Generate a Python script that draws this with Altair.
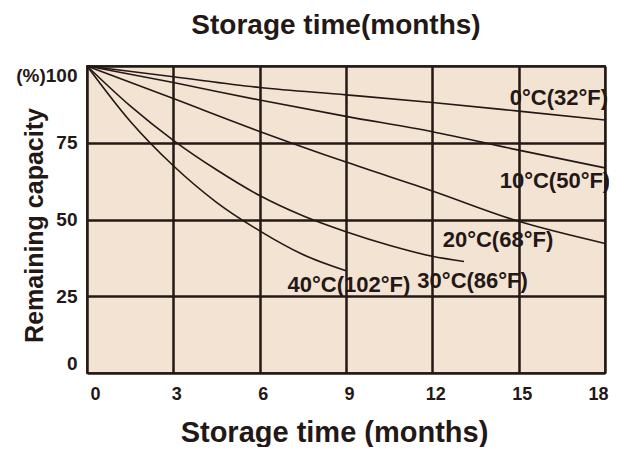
import altair as alt
import pandas as pd

# ---- data ----
series = ["0°C(32°F)", "10°C(50°F)", "20°C(68°F)", "30°C(86°F)", "40°C(102°F)"]

months_0 = [0, 3, 6, 9, 12, 15, 18]
cap_0 = [100, 96.5, 93.0, 90.6, 88.1, 85.3, 82.4]

months_10 = [0, 3, 6, 9, 12, 15, 18]
cap_10 = [100, 94.6, 88.9, 83.6, 78.6, 72.6, 66.8]

months_20 = [0, 3, 6, 9, 12, 15, 18]
cap_20 = [100, 89.4, 78.7, 68.7, 59.3, 49.4, 42.2]

months_30 = [0, 1.5, 3, 4.5, 6, 7.5, 9, 10.5, 12, 13.1]
cap_30 = [100, 87.0, 75.8, 66.2, 57.8, 51.2, 46.0, 41.6, 38.0, 36.3]

months_40 = [0, 1.5, 3, 4.5, 6, 7.5, 9]
cap_40 = [100, 82.0, 67.5, 55.6, 46.3, 38.6, 33.3]

# label anchors (data units)
label_month = [16.4, 16.26, 14.28, 13.4, 9.1]
label_cap = [89.6, 62.5, 43.3, 30.0, 28.7]

x_ticks = [0, 3, 6, 9, 12, 15, 18]
y_ticks = [0, 25, 50, 75, 100]

rows = []
for name, ms, cs in zip(series, [months_0, months_10, months_20, months_30, months_40],
                        [cap_0, cap_10, cap_20, cap_30, cap_40]):
    for m, c in zip(ms, cs):
        rows.append({"series": name, "month": m, "cap": c})
df = pd.DataFrame(rows)
labels_df = pd.DataFrame({"label": series, "month": label_month, "cap": label_cap})

INK = "#231815"
FONT = "Liberation Sans"

x_enc = alt.X(
    "month:Q",
    scale=alt.Scale(domain=[0, 18], nice=False, zero=False),
    axis=alt.Axis(
        values=x_ticks, title="Storage time (months)", labelAngle=0,
        labelFontSize=18, labelFontWeight="bold", labelFont=FONT, labelColor=INK,
        labelFlush=True, labelFlushOffset=0, labelOffset=3,
        labelPadding=12,
        titleFontSize=29, titleFont=FONT, titleFontWeight="bold", titleColor=INK,
        titleX=247, titleY=68, titleBaseline="alphabetic", titleAlign="center",
    ),
)
y_enc = alt.Y(
    "cap:Q",
    scale=alt.Scale(domain=[0, 100], nice=False),
    axis=alt.Axis(
        values=y_ticks, title="Remaining capacity",
        labelExpr="datum.value == 100 ? '(%)100' : datum.label",
        labelFontSize=19, labelFontWeight="bold", labelFont=FONT, labelColor=INK,
        labelPadding=10, labelFlush=True, labelFlushOffset=0,
        titleFontSize=25, titleFont=FONT, titleFontWeight="bold", titleColor=INK,
        titleAngle=270, titleX=-45, titleY=159, titleBaseline="alphabetic", titleAlign="center",
    ),
)

lines = alt.Chart(df).mark_line(interpolate="monotone", stroke=INK, strokeWidth=1.6).encode(
    x=x_enc, y=y_enc, detail="series:N"
)

texts = alt.Chart(labels_df).mark_text(
    font=FONT, fontSize=22, fontWeight="bold", color=INK, align="center", baseline="middle"
).encode(x="month:Q", y="cap:Q", text="label:N")

chart = (
    alt.layer(lines, texts)
    .properties(
        width=518, height=307,
        autosize=alt.AutoSizeParams(type="none"),
        padding={"left": 79, "top": 58, "right": 4, "bottom": 74},
        title=alt.TitleParams(
            text="Storage time(months)", fontSize=28, font=FONT, fontWeight="bold",
            color=INK, anchor="middle", baseline="alphabetic", offset=1, dx=-10,
        ),
        background="white",
    )
    .configure_view(fill="#F3E3D3", stroke="#4a413f", strokeWidth=2)
    .configure_axis(
        grid=True, gridColor=INK, gridWidth=2.5, gridOpacity=1,
        domain=False, ticks=False,
    )
)

chart.save("out.html", embed_options={"renderer": "svg", "actions": False})
